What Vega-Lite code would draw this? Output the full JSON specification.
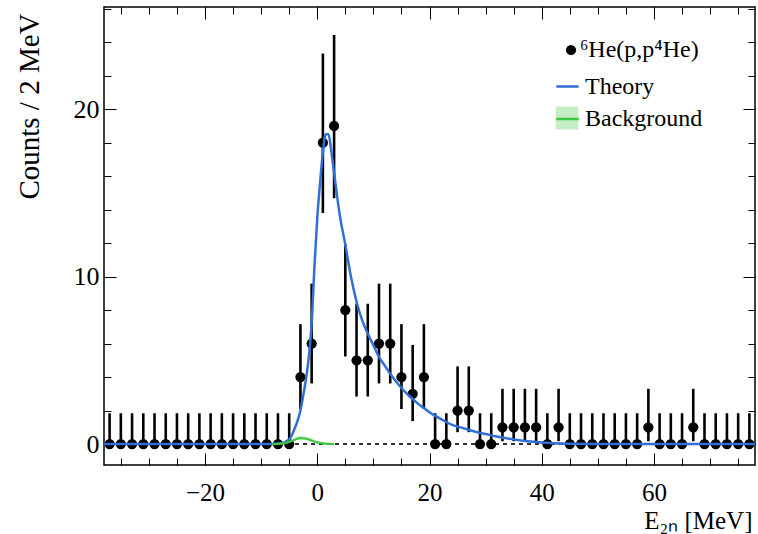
{
  "$schema": "https://vega.github.io/schema/vega-lite/v6.json",
  "width": 651,
  "height": 458,
  "autosize": "none",
  "padding": {"left": 104, "top": 7, "right": 3, "bottom": 69},
  "background": "white",
  "datasets": {
    "counts": [
      {"E": -37, "n": 0, "lo": 0, "hi": 1.84},
      {"E": -35, "n": 0, "lo": 0, "hi": 1.84},
      {"E": -33, "n": 0, "lo": 0, "hi": 1.84},
      {"E": -31, "n": 0, "lo": 0, "hi": 1.84},
      {"E": -29, "n": 0, "lo": 0, "hi": 1.84},
      {"E": -27, "n": 0, "lo": 0, "hi": 1.84},
      {"E": -25, "n": 0, "lo": 0, "hi": 1.84},
      {"E": -23, "n": 0, "lo": 0, "hi": 1.84},
      {"E": -21, "n": 0, "lo": 0, "hi": 1.84},
      {"E": -19, "n": 0, "lo": 0, "hi": 1.84},
      {"E": -17, "n": 0, "lo": 0, "hi": 1.84},
      {"E": -15, "n": 0, "lo": 0, "hi": 1.84},
      {"E": -13, "n": 0, "lo": 0, "hi": 1.84},
      {"E": -11, "n": 0, "lo": 0, "hi": 1.84},
      {"E": -9, "n": 0, "lo": 0, "hi": 1.84},
      {"E": -7, "n": 0, "lo": 0, "hi": 1.84},
      {"E": -5, "n": 0, "lo": 0, "hi": 1.84},
      {"E": -3, "n": 4, "lo": 2.09, "hi": 7.16},
      {"E": -1, "n": 6, "lo": 3.62, "hi": 9.58},
      {"E": 1, "n": 18, "lo": 13.8, "hi": 23.32},
      {"E": 3, "n": 19, "lo": 14.68, "hi": 24.43},
      {"E": 5, "n": 8, "lo": 5.23, "hi": 11.94},
      {"E": 7, "n": 5, "lo": 2.84, "hi": 8.38},
      {"E": 9, "n": 5, "lo": 2.84, "hi": 8.38},
      {"E": 11, "n": 6, "lo": 3.62, "hi": 9.58},
      {"E": 13, "n": 6, "lo": 3.62, "hi": 9.58},
      {"E": 15, "n": 4, "lo": 2.09, "hi": 7.16},
      {"E": 17, "n": 3, "lo": 1.37, "hi": 5.92},
      {"E": 19, "n": 4, "lo": 2.09, "hi": 7.16},
      {"E": 21, "n": 0, "lo": 0, "hi": 1.84},
      {"E": 23, "n": 0, "lo": 0, "hi": 1.84},
      {"E": 25, "n": 2, "lo": 0.71, "hi": 4.64},
      {"E": 27, "n": 2, "lo": 0.71, "hi": 4.64},
      {"E": 29, "n": 0, "lo": 0, "hi": 1.84},
      {"E": 31, "n": 0, "lo": 0, "hi": 1.84},
      {"E": 33, "n": 1, "lo": 0.17, "hi": 3.3},
      {"E": 35, "n": 1, "lo": 0.17, "hi": 3.3},
      {"E": 37, "n": 1, "lo": 0.17, "hi": 3.3},
      {"E": 39, "n": 1, "lo": 0.17, "hi": 3.3},
      {"E": 41, "n": 0, "lo": 0, "hi": 1.84},
      {"E": 43, "n": 1, "lo": 0.17, "hi": 3.3},
      {"E": 45, "n": 0, "lo": 0, "hi": 1.84},
      {"E": 47, "n": 0, "lo": 0, "hi": 1.84},
      {"E": 49, "n": 0, "lo": 0, "hi": 1.84},
      {"E": 51, "n": 0, "lo": 0, "hi": 1.84},
      {"E": 53, "n": 0, "lo": 0, "hi": 1.84},
      {"E": 55, "n": 0, "lo": 0, "hi": 1.84},
      {"E": 57, "n": 0, "lo": 0, "hi": 1.84},
      {"E": 59, "n": 1, "lo": 0.17, "hi": 3.3},
      {"E": 61, "n": 0, "lo": 0, "hi": 1.84},
      {"E": 63, "n": 0, "lo": 0, "hi": 1.84},
      {"E": 65, "n": 0, "lo": 0, "hi": 1.84},
      {"E": 67, "n": 1, "lo": 0.17, "hi": 3.3},
      {"E": 69, "n": 0, "lo": 0, "hi": 1.84},
      {"E": 71, "n": 0, "lo": 0, "hi": 1.84},
      {"E": 73, "n": 0, "lo": 0, "hi": 1.84},
      {"E": 75, "n": 0, "lo": 0, "hi": 1.84},
      {"E": 77, "n": 0, "lo": 0, "hi": 1.84}
    ],
    "theory": [
      {"E": -38, "y": 0},
      {"E": -20, "y": 0},
      {"E": -10, "y": 0},
      {"E": -8, "y": 0.01},
      {"E": -7, "y": 0.03},
      {"E": -6, "y": 0.08},
      {"E": -5, "y": 0.28},
      {"E": -4.5, "y": 0.55},
      {"E": -4, "y": 0.95},
      {"E": -3.5, "y": 1.4},
      {"E": -3, "y": 2.0},
      {"E": -2.5, "y": 2.9},
      {"E": -2, "y": 3.9},
      {"E": -1.5, "y": 5.2},
      {"E": -1, "y": 7.2},
      {"E": -0.5, "y": 10.6},
      {"E": 0, "y": 13.5},
      {"E": 0.5, "y": 15.6},
      {"E": 1, "y": 17.4},
      {"E": 1.5, "y": 18.5},
      {"E": 2, "y": 18.5},
      {"E": 2.5, "y": 17.5},
      {"E": 3, "y": 16.2},
      {"E": 3.5, "y": 14.9},
      {"E": 4, "y": 13.7},
      {"E": 5, "y": 11.9},
      {"E": 6, "y": 10.0},
      {"E": 7, "y": 8.5},
      {"E": 8, "y": 7.4},
      {"E": 9, "y": 6.6},
      {"E": 10, "y": 5.9},
      {"E": 11, "y": 5.2},
      {"E": 12, "y": 4.7},
      {"E": 13, "y": 4.2},
      {"E": 14, "y": 3.75},
      {"E": 15, "y": 3.35},
      {"E": 16, "y": 3.0},
      {"E": 17, "y": 2.7},
      {"E": 18, "y": 2.4},
      {"E": 19, "y": 2.15},
      {"E": 20, "y": 1.9},
      {"E": 22, "y": 1.5},
      {"E": 24, "y": 1.15},
      {"E": 26, "y": 0.95},
      {"E": 28, "y": 0.75},
      {"E": 30, "y": 0.6},
      {"E": 32, "y": 0.45},
      {"E": 34, "y": 0.33},
      {"E": 36, "y": 0.23},
      {"E": 38, "y": 0.15},
      {"E": 40, "y": 0.09},
      {"E": 42, "y": 0.05},
      {"E": 45, "y": 0.02},
      {"E": 50, "y": 0.005},
      {"E": 60, "y": 0},
      {"E": 78, "y": 0}
    ],
    "bkg": [
      {"E": -8, "b": 0, "lo": 0, "hi": 0.02},
      {"E": -7, "b": 0.01, "lo": 0, "hi": 0.05},
      {"E": -6, "b": 0.04, "lo": 0.01, "hi": 0.12},
      {"E": -5, "b": 0.12, "lo": 0.07, "hi": 0.26},
      {"E": -4, "b": 0.26, "lo": 0.2, "hi": 0.42},
      {"E": -3, "b": 0.35, "lo": 0.28, "hi": 0.52},
      {"E": -2, "b": 0.32, "lo": 0.26, "hi": 0.48},
      {"E": -1, "b": 0.21, "lo": 0.16, "hi": 0.34},
      {"E": 0, "b": 0.1, "lo": 0.07, "hi": 0.18},
      {"E": 1, "b": 0.04, "lo": 0.02, "hi": 0.08},
      {"E": 2, "b": 0.01, "lo": 0, "hi": 0.03},
      {"E": 3, "b": 0, "lo": 0, "hi": 0.01}
    ]
  },
  "resolve": {"axis": {"x": "independent", "y": "independent"}},
  "layer": [
    {
      "data": {"name": "counts"},
      "mark": {"type": "rule", "strokeDash": [4, 4], "strokeWidth": 1, "color": "#333333"},
      "encoding": {
        "y": {"datum": 0, "type": "quantitative", "scale": {"domain": [-1.25, 26.1], "nice": false, "zero": false}, "axis": null}
      }
    },
    {
      "data": {"name": "counts"},
      "mark": {"type": "rule", "strokeWidth": 2.6, "color": "black"},
      "encoding": {
        "x": {
          "field": "E", "type": "quantitative",
          "scale": {"domain": [-38, 78], "nice": false, "zero": false},
          "axis": {
            "orient": "bottom", "values": [-20, 0, 20, 40, 60], "ticks": false,
            "labelPadding": 15, "labelBaseline": "top", "labelFontSize": 25,
            "title": "E₂ₙ [MeV]", "titleFontSize": 25,
            "titleX": 648, "titleY": 63, "titleAlign": "right", "titleBaseline": "alphabetic", "titleAnchor": null
          }
        },
        "y": {
          "field": "lo", "type": "quantitative",
          "scale": {"domain": [-1.25, 26.1], "nice": false, "zero": false},
          "axis": {
            "orient": "left", "values": [0, 10, 20], "ticks": false,
            "labelPadding": 5,
            "title": "Counts / 2 MeV", "titleFontSize": 29,
            "titleX": -66, "titleY": 6, "titleAngle": -90, "titleAlign": "right", "titleBaseline": "alphabetic", "titleAnchor": null
          }
        },
        "y2": {"field": "hi"}
      }
    },
    {
      "data": {"name": "counts"},
      "mark": {"type": "point", "filled": true, "size": 105, "opacity": 1},
      "encoding": {
        "x": {
          "field": "E", "type": "quantitative",
          "scale": {"domain": [-38, 78], "nice": false, "zero": false},
          "axis": {"orient": "bottom", "values": [-20, 0, 20, 40, 60], "tickSize": -12, "labels": false, "title": null}
        },
        "y": {
          "field": "n", "type": "quantitative",
          "scale": {"domain": [-1.25, 26.1], "nice": false, "zero": false},
          "axis": {"orient": "left", "values": [0, 10, 20], "tickSize": -12, "labels": false, "title": null}
        },
        "color": {
          "datum": "⁶He(p,p⁴He)",
          "scale": {"domain": ["⁶He(p,p⁴He)"], "range": ["black"]},
          "legend": {
            "orient": "none", "legendX": 455, "legendY": 31, "title": null,
            "symbolType": "circle", "symbolSize": 105, "symbolOpacity": 1,
            "labelFont": "Liberation Serif", "labelFontSize": 24, "labelColor": "black",
            "labelLimit": 0, "labelOffset": -3
          }
        }
      }
    },
    {
      "data": {"name": "theory"},
      "mark": {"type": "line", "strokeWidth": 2.5, "interpolate": "monotone"},
      "encoding": {
        "x": {
          "field": "E", "type": "quantitative",
          "scale": {"domain": [-38, 78], "nice": false, "zero": false},
          "axis": {"orient": "bottom", "values": [-35, -30, -25, -20, -15, -10, -5, 0, 5, 10, 15, 20, 25, 30, 35, 40, 45, 50, 55, 60, 65, 70, 75], "tickSize": -7, "labels": false, "title": null}
        },
        "y": {
          "field": "y", "type": "quantitative",
          "scale": {"domain": [-1.25, 26.1], "nice": false, "zero": false},
          "axis": {"orient": "left", "values": [0, 2, 4, 6, 8, 10, 12, 14, 16, 18, 20, 22, 24, 26], "tickSize": -7, "labels": false, "title": null}
        },
        "stroke": {
          "datum": "Theory",
          "scale": {"domain": ["Theory", "Background"], "range": ["#2f6fd6", "#3ec73e"]},
          "legend": {
            "orient": "none", "legendX": 451, "legendY": 67, "title": null,
            "symbolType": "stroke", "symbolSize": 500, "symbolStrokeWidth": 2.5, "symbolOpacity": 1,
            "labelFont": "Liberation Serif", "labelFontSize": 24, "labelColor": "black",
            "labelLimit": 0, "labelOffset": 5, "rowPadding": 7.5
          }
        }
      }
    },
    {
      "data": {"name": "bkg"},
      "mark": {"type": "area", "opacity": 0.22, "interpolate": "monotone"},
      "encoding": {
        "x": {
          "field": "E", "type": "quantitative",
          "scale": {"domain": [-38, 78], "nice": false, "zero": false},
          "axis": {"orient": "top", "values": [-20, 0, 20, 40, 60], "tickSize": -12, "labels": false, "title": null}
        },
        "y": {
          "field": "lo", "type": "quantitative",
          "scale": {"domain": [-1.25, 26.1], "nice": false, "zero": false},
          "axis": {"orient": "right", "values": [0, 10, 20], "tickSize": -12, "labels": false, "title": null}
        },
        "y2": {"field": "hi"},
        "fill": {
          "datum": "Background",
          "scale": {"domain": ["Background"], "range": ["#3ec73e"]},
          "legend": {
            "orient": "none", "legendX": 451, "legendY": 99, "title": null,
            "symbolType": "square", "symbolSize": 520, "symbolOpacity": 0.3, "symbolStrokeWidth": 0,
            "labelFont": "Liberation Serif", "labelFontSize": 24, "labelColor": "black",
            "labelExpr": "''", "labelLimit": 0, "labelOffset": 5
          }
        }
      }
    },
    {
      "data": {"name": "bkg"},
      "mark": {"type": "line", "strokeWidth": 2.2, "interpolate": "monotone"},
      "encoding": {
        "x": {
          "field": "E", "type": "quantitative",
          "scale": {"domain": [-38, 78], "nice": false, "zero": false},
          "axis": {"orient": "top", "values": [-35, -30, -25, -20, -15, -10, -5, 0, 5, 10, 15, 20, 25, 30, 35, 40, 45, 50, 55, 60, 65, 70, 75], "tickSize": -7, "labels": false, "title": null}
        },
        "y": {
          "field": "b", "type": "quantitative",
          "scale": {"domain": [-1.25, 26.1], "nice": false, "zero": false},
          "axis": {"orient": "right", "values": [0, 2, 4, 6, 8, 10, 12, 14, 16, 18, 20, 22, 24, 26], "tickSize": -7, "labels": false, "title": null}
        },
        "stroke": {"datum": "Background"}
      }
    }
  ],
  "config": {
    "view": {"stroke": "black", "strokeWidth": 1.5},
    "axis": {
      "domain": false, "grid": false,
      "tickColor": "black", "tickWidth": 1,
      "labelFont": "Liberation Serif", "labelFontSize": 26, "labelColor": "black",
      "labelOverlap": false, "labelFlush": false, "labelBound": false,
      "titleFont": "Liberation Serif", "titleFontWeight": "normal", "titleColor": "black"
    }
  }
}
